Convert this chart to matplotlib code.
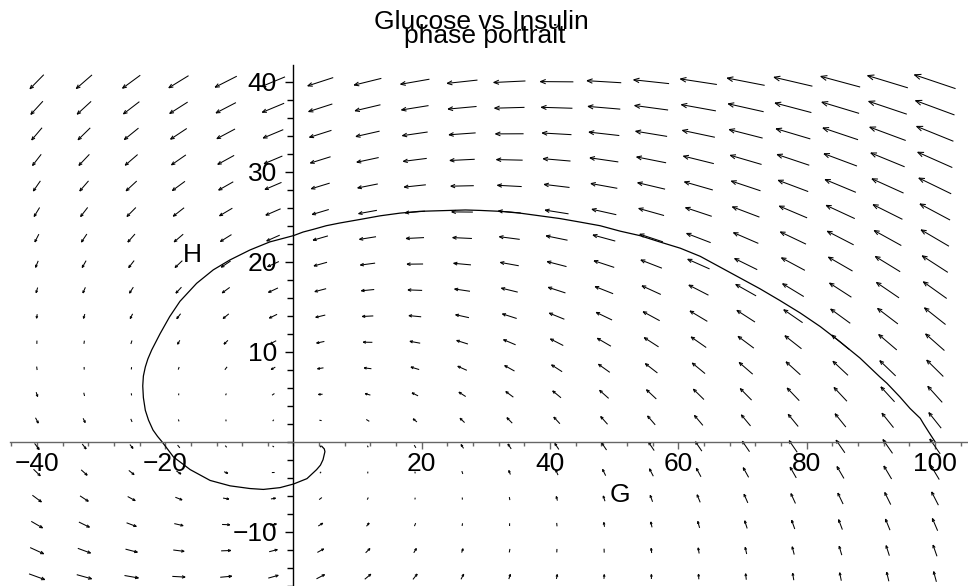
import numpy as np
import matplotlib
matplotlib.use("Agg")
import matplotlib.pyplot as plt
from matplotlib.collections import LineCollection

plt.rcParams['font.family'] = ['Liberation Sans', 'DejaVu Sans']

# linear glucose / insulin model  G' = -a G - b H ,  H' = c G - d H
a, b, c, d = 1.0, 3.75, 1.0, 1.0

# direction field grid (20 x 20)
g_grid = np.linspace(-40, 100, 20)
h_grid = np.linspace(-15, 40, 20)

# solution curve starting at G=100, H=0
traj_G = [100.0, 99.0, 98.2, 97.7, 96.1, 94.5, 92.5, 91.4, 88.3, 85.2, 82.1, 79.0,
          75.8, 72.7, 69.6, 66.5, 63.4, 60.3, 57.1, 54.0, 50.9, 47.8, 44.7, 41.5,
          38.4, 35.3, 32.2, 29.1, 26.8, 24.4, 22.0, 19.7, 16.6, 13.5, 10.4, 7.2,
          5.1, 3.1, 1.5, 0.0, -3.7, -6.8, -9.9, -12.5, -15.1, -17.7, -19.3, -20.8,
          -22.1, -22.7, -23.1, -23.4, -23.5, -23.4, -23.1, -22.6, -21.9, -21.2,
          -20.5, -18.7, -16.1, -13.0, -9.9, -6.8, -4.7, -2.1, 0.0, 2.1, 3.6, 4.2,
          4.6, 4.9, 4.8, 4.4]
traj_H = [0.0, 1.1, 2.0, 2.6, 3.7, 5.0, 6.5, 7.2, 9.3, 11.1, 12.8, 14.3,
          15.7, 17.0, 18.2, 19.4, 20.6, 21.5, 22.2, 22.9, 23.4, 24.0, 24.4, 24.8,
          25.1, 25.4, 25.6, 25.7, 25.75, 25.7, 25.65, 25.6, 25.4, 25.1, 24.7, 24.3,
          24.0, 23.6, 23.3, 22.9, 22.2, 21.3, 20.2, 19.1, 17.6, 15.6, 13.9, 12.0,
          10.2, 9.2, 8.3, 7.3, 6.2, 4.9, 3.5, 2.4, 1.3, 0.6,
          0.0, -1.7, -3.1, -4.3, -4.9, -5.2, -5.3, -5.1, -4.7, -4.1, -3.1, -2.6,
          -2.0, -1.1, -0.8, -0.5]

x_ticks = [-40, -20, 20, 40, 60, 80, 100]
y_ticks = [-10, 10, 20, 30, 40]

title1 = 'Glucose vs Insulin'
title2 = 'phase portrait'

W, Hpx = 968, 586
fig = plt.figure(figsize=(W / 100, Hpx / 100), dpi=100)
ax = fig.add_axes([0, 0, 1, 1])
xmin, xmax = -45.75, 105.14
ymin, ymax = -16.03, 49.08
ax.set_xlim(xmin, xmax)
ax.set_ylim(ymin, ymax)
sx = W / (xmax - xmin)   # pixels per unit
sy = Hpx / (ymax - ymin)

# arrows
GG, HH = np.meshgrid(g_grid, h_grid)
U = -a * GG - b * HH
V = c * GG - d * HH
px, py = U * sx, V * sy
nrm = np.hypot(px, py)
nrm[nrm == 0] = 1
ux, uy = px / nrm, py / nrm
L = 0.1727 * np.sqrt(U ** 2 + (0.37 * V) ** 2)
L = np.maximum(L, 1.8)

segs = []
ang = np.radians(22)
for i in range(GG.shape[0]):
    for j in range(GG.shape[1]):
        cx, cy = GG[i, j], HH[i, j]
        l = L[i, j]
        dx, dy = ux[i, j] * l / 2, uy[i, j] * l / 2
        tail = (cx - dx / sx, cy - dy / sy)
        tip = (cx + dx / sx, cy + dy / sy)
        segs.append([tail, tip])
        if l > 4:
            hl = 0.12 * l + 1.8
            for s in (ang, -ang):
                bx = -(ux[i, j] * np.cos(s) - uy[i, j] * np.sin(s)) * hl
                by = -(ux[i, j] * np.sin(s) + uy[i, j] * np.cos(s)) * hl
                segs.append([tip, (tip[0] + bx / sx, tip[1] + by / sy)])
ax.add_collection(LineCollection(segs, colors='black', linewidths=0.75))

ax.plot(traj_G, traj_H, color='black', lw=0.9, solid_joinstyle='round')

# axes through the origin
for s in ('top', 'right'):
    ax.spines[s].set_visible(False)
ax.spines['left'].set_position(('data', 0))
ax.spines['bottom'].set_position(('data', 0))
ax.spines['bottom'].set_bounds(-44.2, 105)
ax.spines['left'].set_bounds(-16, 41.9)
ax.spines['bottom'].set_color('#666666')
ax.spines['left'].set_color('black')
ax.spines['bottom'].set_linewidth(1.0)
ax.spines['left'].set_linewidth(1.0)

ax.set_xticks(x_ticks)
ax.set_yticks(y_ticks)
ax.set_xticks(np.arange(-44, 105, 4), minor=True)
ax.set_yticks(np.arange(-16, 42, 2), minor=True)
ax.tick_params(axis='x', which='major', direction='out', length=5, width=1,
               color='#666666', labelsize=19, pad=2.5)
ax.tick_params(axis='x', which='minor', direction='out', length=3, width=1,
               color='#666666')
ax.tick_params(axis='y', which='major', direction='out', length=6, width=1,
               labelsize=19, pad=6)
ax.tick_params(axis='y', which='minor', direction='out', length=4.5, width=1)

ax.text(50.9, -5.9, 'G', fontsize=19, ha='center', va='center')
ax.text(-15.7, 20.7, 'H', fontsize=19, ha='center', va='center')

# the two title lines sit very close, as in the original
fig.text(481.7 / W, 1 - 29 / Hpx, title1, ha='center', va='baseline', fontsize=19)
fig.text(485 / W, 1 - 43.3 / Hpx, title2, ha='center', va='baseline', fontsize=19)

fig.savefig('out.png', dpi=100)
